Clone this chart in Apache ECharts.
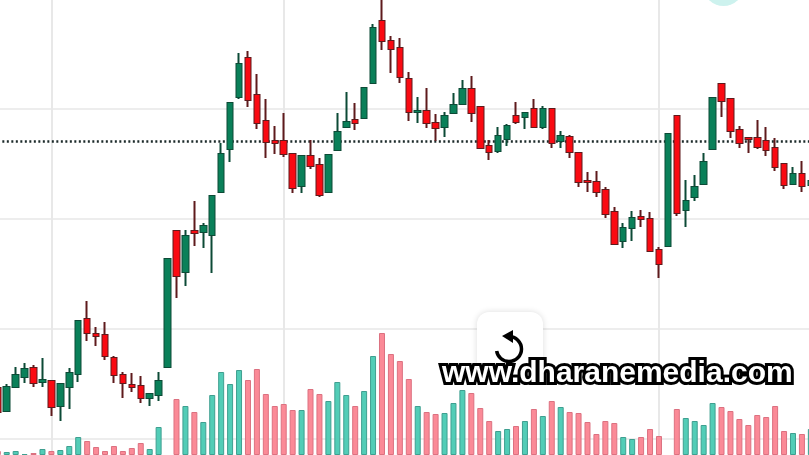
<!DOCTYPE html>
<html>
<head>
<meta charset="utf-8">
<style>
  html, body { margin: 0; padding: 0; background: #fff; }
  #chart { width: 809px; height: 455px; }
</style>
<script src="https://cdn.jsdelivr.net/npm/echarts@6/dist/echarts.min.js"></script>
</head>
<body>
<div id="chart"></div>
<script>
// price readings, one entry per candle, left to right
const opens = [51,28,52,62,71,57,58,33,52,65,120,105,104,81,64,54,53,41,44,72,208,167,208,207,204,247,290,342,381,344,318,298,298,285,253,283,274,247,289,312,319,321,356,418,398,391,360,327,328,316,312,326,335,350,332,293,288,300,323,322,330,312,330,298,302,286,258,257,249,227,198,211,222,220,189,193,323,229,242,255,290,355,340,309,301,301,298,291,275,255,265,254];
const closes = [27,52,64,70,56,59,32,55,66,118,106,103,83,64,56,52,41,45,58,180,163,203,206,213,243,285,336,375,339,316,297,296,285,251,283,273,244,284,307,317,316,351,411,398,390,362,327,328,316,311,323,334,350,326,291,287,303,313,317,326,312,330,296,303,287,257,257,247,225,195,211,221,220,188,175,305,226,238,252,277,341,338,308,296,300,292,289,272,254,265,253,258];
const lows = [26,28,52,56,52,52,23,18,30,57,98,93,79,56,41,47,36,33,38,72,141,153,193,191,166,247,277,340,332,310,281,285,282,246,246,270,242,247,289,312,309,321,356,389,366,356,318,316,311,298,302,326,335,317,290,279,286,293,315,310,312,310,291,291,281,252,247,242,221,194,191,198,212,187,161,193,223,212,238,255,290,322,301,291,286,290,283,268,250,255,247,254];
const highs = [53,55,72,76,74,81,59,55,71,118,138,112,117,83,67,66,63,46,67,180,208,209,238,216,243,296,336,386,388,365,340,313,326,286,283,299,281,284,326,347,336,351,415,440,403,401,367,342,351,325,327,346,359,363,332,299,312,315,337,326,340,333,330,308,304,286,267,268,252,232,216,228,229,227,192,305,323,259,264,286,341,355,340,313,301,319,312,301,275,272,278,258];
const volumes = [4,3,4,1,2,6,4,5,9,18,14,8,4,9,4,7,12,6,28,null,56,49,43,33,60,83,71,85,75,86,61,49,51,45,45,66,61,54,73,60,49,64,99,122,101,94,76,49,43,41,42,52,65,62,47,34,24,26,29,34,46,39,54,48,43,42,33,21,34,32,18,16,18,26,19,null,46,37,34,30,52,48,44,36,30,40,38,49,24,22,21,26];
const categories = opens.map((v, i) => i);
const verticalGrid = [6, 32, 74];   // candles that sit on a time gridline
const lastPrice = 298;
const watermark = "www.dharanemedia.com";

const upColor = "#0a8059";
const downColor = "#fa0a12";

const candles = opens.map((o, i) => [o, closes[i], lows[i], highs[i]]);
// second pass of the same candles, bodies only, so the outline stays thinner than the wick
const bodies = opens.map((o, i) => [o, closes[i], Math.min(o, closes[i]), Math.max(o, closes[i])]);
const volumeBars = volumes.map((v, i) => {
  const up = closes[i] >= opens[i];
  return {
    value: v,
    itemStyle: {
      color: up ? "#52cdb7" : "#fb8a97",
      borderColor: up ? "#3f9f90" : "#dc7180",
      borderWidth: 1,
    },
  };
});

const Chart = echarts.init(document.getElementById("chart"), null, { renderer: "canvas" });
Chart.setOption({
  animation: false,
  backgroundColor: "#fff",
  grid: [
    { left: -6.67, width: 822, top: -1, height: 550, outerBoundsMode: "none" },
    { left: -6.67, width: 822, top: 0, height: 455, outerBoundsMode: "none" },
  ],
  xAxis: [
    { type: "category", data: categories, gridIndex: 0, show: false },
    { type: "category", data: categories, gridIndex: 1, show: false },
  ],
  yAxis: [
    {
      type: "value", gridIndex: 0, min: -110, max: 440, interval: 110,
      axisLine: { show: false }, axisTick: { show: false }, axisLabel: { show: false },
      splitLine: { show: true, lineStyle: { color: "#ededed", width: 2 } },
    },
    { type: "value", gridIndex: 1, min: 0, max: 455, show: false, splitLine: { show: false } },
  ],
  series: [
    {
      type: "bar",
      xAxisIndex: 1,
      yAxisIndex: 1,
      data: volumeBars,
      barWidth: 6,
      z: 3,
      markLine: {
        silent: true,
        symbol: "none",
        z: 1,
        label: { show: false },
        lineStyle: { color: "#e8e8e8", width: 2, type: "solid" },
        data: verticalGrid.map((c) => ({ xAxis: c })),
      },
    },
    {
      type: "candlestick",
      xAxisIndex: 0,
      yAxisIndex: 0,
      data: candles,
      barWidth: 6,
      z: 4,
      itemStyle: {
        color: upColor,
        color0: downColor,
        borderColor: "#0c4a36",
        borderColor0: "#5e1a1c",
        borderWidth: 2,
      },
      markLine: {
        silent: true,
        symbol: "none",
        z: 2,
        label: { show: false },
        lineStyle: { color: "#1d2b2b", width: 2.5, type: [2, 2.5] },
        data: [{ yAxis: lastPrice }],
      },
    },
    {
      type: "candlestick",
      xAxisIndex: 0,
      yAxisIndex: 0,
      data: bodies,
      barWidth: 6,
      z: 5,
      itemStyle: {
        color: upColor,
        color0: downColor,
        borderColor: upColor,
        borderColor0: downColor,
        borderWidth: 0,
      },
    },
  ],
  graphic: [
    { type: "circle", shape: { cx: 723.5, cy: -14, r: 20 }, style: { fill: "#cdf2ee" }, silent: true },
    {
      type: "rect", z: 10, silent: true,
      shape: { x: 477, y: 312, width: 66, height: 62, r: 12 },
      style: { fill: "#fff", shadowBlur: 6, shadowColor: "rgba(0,0,0,0.14)" },
    },
    {
      type: "arc", z: 11, silent: true,
      shape: { cx: 509, cy: 349, r: 12.5, startAngle: -Math.PI / 2, endAngle: Math.PI * 0.95 },
      style: { stroke: "#000", fill: "none", lineWidth: 3.5 },
    },
    {
      type: "polygon", z: 11, silent: true,
      shape: { points: [[502, 336], [513, 330], [513, 343]] },
      style: { fill: "#000" },
    },
    {
      type: "text", z: 12, silent: true, x: 442, y: 359,
      style: {
        text: watermark,
        font: 'bold 30px "Liberation Sans"',
        fill: "#fff",
        stroke: "#000",
        lineWidth: 6,
      },
    },
  ],
});
</script>
</body>
</html>
